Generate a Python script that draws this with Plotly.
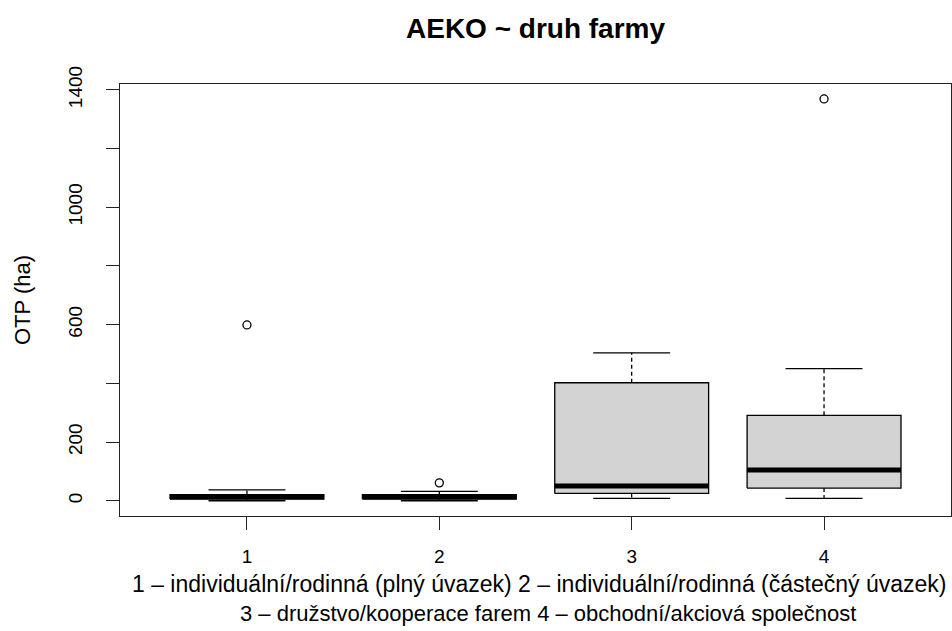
import plotly.graph_objects as go

# ---- data ----
groups = [1, 2, 3, 4]
lower_whisker = [0, 0, 8, 8]
q1 = [6, 6, 25, 43]
median = [14, 14, 50, 105]
q3 = [21, 21, 402, 291]
upper_whisker = [37, 32, 504, 450]
outlier_x = [1, 2, 4]
outlier_y = [599, 61, 1369]

y_tickvals = [0, 200, 400, 600, 800, 1000, 1200, 1400]
y_ticktext = ["0", "200", "", "600", "", "1000", "", "1400"]
x_ticktext = ["1", "2", "3", "4"]

title_text = "AEKO ~ druh farmy"
ylabel_text = "OTP (ha)"
xlabel_line1 = "1 – individuální/rodinná (plný úvazek) 2 – individuální/rodinná (částečný úvazek)"
xlabel_line2 = "3 – družstvo/kooperace farem 4 – obchodní/akciová společnost"

BOXW = 0.4   # half box width (R boxwex 0.8)
CAPW = 0.2   # half staple width
FONT = "Liberation Sans, Arial, sans-serif"

fig = go.Figure()

for g, lw, a, m, b, uw in zip(groups, lower_whisker, q1, median, q3, upper_whisker):
    # whiskers (dashed)
    fig.add_trace(go.Scatter(x=[g, g, None, g, g], y=[b, uw, None, a, lw], mode="lines",
                             line=dict(color="black", width=1.3, dash="4px,3px"),
                             hoverinfo="skip", showlegend=False))
    # caps
    fig.add_trace(go.Scatter(x=[g - CAPW, g + CAPW, None, g - CAPW, g + CAPW],
                             y=[uw, uw, None, lw, lw], mode="lines",
                             line=dict(color="black", width=1.3),
                             hoverinfo="skip", showlegend=False))
    # box
    fig.add_trace(go.Scatter(x=[g - BOXW, g + BOXW, g + BOXW, g - BOXW, g - BOXW],
                             y=[a, a, b, b, a], mode="lines", fill="toself",
                             fillcolor="#d3d3d3", line=dict(color="black", width=1.3),
                             hoverinfo="skip", showlegend=False))
    # median
    fig.add_trace(go.Scatter(x=[g - BOXW, g + BOXW], y=[m, m], mode="lines",
                             line=dict(color="black", width=5),
                             hoverinfo="skip", showlegend=False))

fig.add_trace(go.Scatter(x=outlier_x, y=outlier_y, mode="markers",
                         marker=dict(symbol="circle-open", size=8, color="black",
                                     line=dict(width=1.3)),
                         hoverinfo="skip", showlegend=False))

fig.update_layout(
    width=952, height=631,
    margin=dict(l=120, r=1, t=84, b=115),
    plot_bgcolor="white", paper_bgcolor="white",
    font=dict(family=FONT, color="black"),
    xaxis=dict(range=[0.34, 4.66], tickvals=groups, ticktext=x_ticktext,
               showgrid=False, zeroline=False, showline=True, mirror=True,
               linecolor="#222222", linewidth=1.3, ticks="outside", ticklen=13,
               tickcolor="#222222", tickwidth=1.3, tickfont=dict(size=19),
               ticklabelstandoff=10),
    yaxis=dict(range=[-52, 1420], tickvals=y_tickvals, ticktext=y_ticktext,
               showgrid=False, zeroline=False, showline=True, mirror=True,
               linecolor="#222222", linewidth=1.3, ticks="outside", ticklen=13,
               tickcolor="#222222", tickwidth=1.3, tickfont=dict(size=19),
               tickangle=-90, ticklabelstandoff=16),
    annotations=[
        dict(text="<b>" + title_text + "</b>", xref="paper", yref="paper",
             x=0.5, y=(516 - 28) / 432, xanchor="center", yanchor="middle",
             showarrow=False, font=dict(size=28)),
        dict(text=ylabel_text, xref="paper", yref="paper",
             x=(22 - 120) / 831, y=0.5, xanchor="center", yanchor="middle",
             textangle=-90, showarrow=False, font=dict(size=22)),
        dict(text=xlabel_line1, xref="paper", yref="paper",
             x=(539 - 120) / 831, y=(516 - 584) / 432, xanchor="center", yanchor="middle",
             showarrow=False, font=dict(size=23)),
        dict(text=xlabel_line2, xref="paper", yref="paper",
             x=(548 - 120) / 831, y=(516 - 613) / 432, xanchor="center", yanchor="middle",
             showarrow=False, font=dict(size=22)),
    ],
)

fig.write_html("out.html", config={"displayModeBar": False},
               post_script="document.body.style.margin='0';")
